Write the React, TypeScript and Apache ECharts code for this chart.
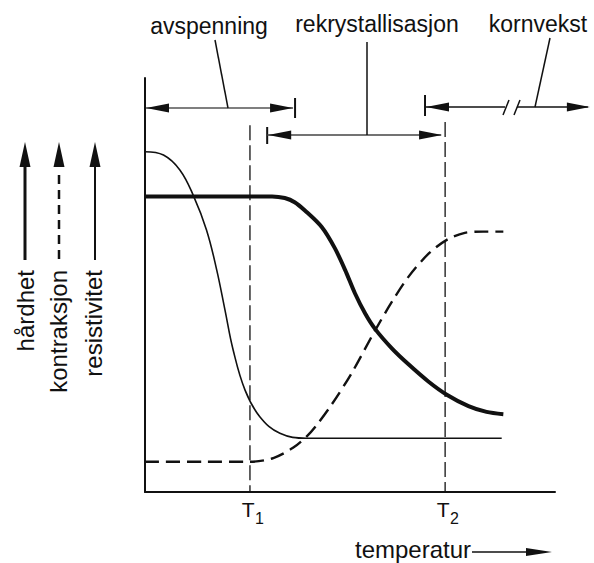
import React, { useEffect, useRef } from 'react';
import * as echarts from 'echarts';

// ---- data (schematic units: x = temperature 0..100, y = property 0..100) ----
const hardX = [0, 20, 31.0, 34.1, 36.5, 39.0, 43.1, 46.3, 48.8, 51.2, 53.7, 56.1, 60.2, 64.2, 69.1, 73.6, 78.9, 83.3, 87.4];
const hardY = [71.4, 71.4, 71.4, 71.0, 70.0, 68.0, 64.0, 58.9, 53.65, 48.0, 43.1, 39.4, 34.7, 30.9, 26.7, 23.5, 20.75, 19.35, 18.8];

const resX = [0, 4.5, 8.5, 11.8, 15.0, 17.5, 19.5, 21.5, 24.4, 28.0, 32.9, 39.4, 55, 87.0];
const resY = [82.2, 81.4, 77.8, 71.6, 63.3, 53.6, 44.0, 34.3, 24.6, 18.2, 14.2, 13.0, 13.0, 13.0];

const conX = [0, 15, 25.6, 31.3, 36.0, 39.4, 41.5, 45.5, 50.4, 56.1, 60.2, 64.2, 69.1, 73.6, 78.0, 82.5, 87.4];
const conY = [7.3, 7.3, 7.3, 8.2, 10.6, 13.4, 15.7, 21.1, 28.7, 39.0, 45.9, 51.9, 57.5, 60.9, 62.6, 62.9, 62.9];

const tValues = [25.6, 73.2];
const tSubs = ['1', '2'];
const tTops = [88.6, 89.4];

const phaseNames = ['avspenning', 'rekrystallisasjon', 'kornvekst'];
const phaseFrom = [0, 29.8, 68.3];
const phaseTo = [36.6, 72.7, 108.5];

const propNames = ['hårdhet', 'kontraksjon', 'resistivitet'];
const xName = 'temperatur';

const zip = (xs: number[], ys: number[]) => xs.map((x, i) => [x, ys[i]]);

const INK = '#111';
const FONT = "'Liberation Sans', Arial, sans-serif";

export default function App() {
  const ref = useRef<HTMLDivElement>(null);
  useEffect(() => {
    if (!ref.current) return;
    const chart = echarts.init(ref.current, null, { renderer: 'svg' });
    chart.setOption({
      animation: false,
      backgroundColor: '#fff',
      grid: { left: 145, right: 39, top: 78, bottom: 71 },
      xAxis: {
        type: 'value', min: 0, max: 100,
        axisLine: { show: true, onZero: false, lineStyle: { color: INK, width: 2 } },
        axisTick: { show: false },
        splitLine: { show: false },
        axisLabel: { show: false },
      },
      yAxis: {
        type: 'value', min: 0, max: 100,
        axisLine: { show: true, onZero: false, lineStyle: { color: INK, width: 2 } },
        axisTick: { show: false },
        splitLine: { show: false },
        axisLabel: { show: false },
      },
      series: [
        { type: 'line', data: zip(hardX, hardY), smooth: 0.3, showSymbol: false, lineStyle: { color: INK, width: 4 } },
        { type: 'line', data: zip(resX, resY), smooth: 0.4, showSymbol: false, lineStyle: { color: INK, width: 1.6 } },
        { type: 'line', data: zip(conX, conY), smooth: 0.3, showSymbol: false, lineStyle: { color: INK, width: 2.4, type: [14, 7] } },
        ...tValues.map((t, i) => ({
          type: 'line', data: [[t, tTops[i]], [t, 0]], showSymbol: false,
          lineStyle: { color: INK, width: 1.3, type: [15, 5] },
        })),
      ],
    });

    const px = (x: number) => (chart.convertToPixel({ gridIndex: 0 }, [x, 0]) as number[])[0];

    const g: any[] = [];
    const line = (x1: number, y1: number, x2: number, y2: number, w: number, color = INK, dash?: number[]) => {
      g.push({ type: 'line', silent: true, shape: { x1, y1, x2, y2 }, style: { stroke: color, lineWidth: w, lineDash: dash } });
    };
    const head = (tx: number, ty: number, dir: 'left' | 'right' | 'up', len = 23, hw = 4.5) => {
      let pts: number[][];
      if (dir === 'left') pts = [[tx, ty], [tx + len, ty - hw], [tx + len, ty + hw]];
      else if (dir === 'right') pts = [[tx, ty], [tx - len, ty - hw], [tx - len, ty + hw]];
      else pts = [[tx, ty], [tx - hw, ty + len], [tx + hw, ty + len]];
      g.push({ type: 'polygon', silent: true, shape: { points: pts }, style: { fill: INK } });
    };
    const text = (x: number, y: number, s: string, size: number, align = 'center', rotation = 0) => {
      g.push({
        type: 'text', silent: true, x, y, rotation,
        style: { text: s, fontSize: size, fontFamily: FONT, fill: INK, align, verticalAlign: 'middle' },
      });
    };

    // phase 1: avspenning
    {
      const a = px(phaseFrom[0]), b = px(phaseTo[0]), y = 108;
      line(a, y, b - 2, y, 1.5, '#555');
      head(a + 1, y, 'left');
      head(b - 2, y, 'right');
      line(b, 98, b, 118, 2);
      line(228, y, 215, 40, 1.5);
      text(209, 26, phaseNames[0], 23);
    }
    // phase 2: rekrystallisasjon
    {
      const a = px(phaseFrom[1]), b = px(phaseTo[1]), y = 135;
      line(a, 127, a, 144, 2);
      line(a, y, b - 2, y, 1.5, '#444');
      head(a + 1, y, 'left');
      head(b - 1, y, 'right');
      line(367, 42, 367, y, 1.5);
      text(377, 24, phaseNames[1], 23);
    }
    // phase 3: kornvekst
    {
      const a = px(phaseFrom[2]), b = px(phaseTo[2]), y = 107;
      line(a, 95, a, 116, 2);
      head(a + 1, y, 'left');
      line(a, y, 505, y, 1.5);
      line(503, 115, 509, 100, 1.5);
      line(514, 115, 520, 100, 1.5);
      line(517, y, b - 2, y, 1.5);
      head(b, y, 'right');
      line(535, y, 550, 38, 1.5);
      text(538, 24, phaseNames[2], 23);
    }

    // T labels
    tValues.forEach((t, i) => {
      const x = px(t);
      text(x + 4.5, 509.5, 'T', 21, 'right');
      text(x + 5, 518, tSubs[i], 16, 'left');
    });

    // left property arrows
    const ax = [25, 59, 95];
    const widths = [3, 2.5, 2];
    ax.forEach((x, i) => {
      head(x, 142, 'up', 25, 5.5);
      if (i === 1) line(x, 175, x, 260, widths[i], INK, [9, 6]);
      else line(x, 165, x, 260, widths[i]);
    });
    const tx = [25, 58, 93];
    propNames.forEach((s, i) => text(tx[i], 270, s, 24, 'right', Math.PI / 2));

    // temperature arrow
    text(355, 549, xName, 24, 'left');
    line(472, 552, 530, 552, 1.5);
    head(552, 552, 'right', 26, 4);

    chart.setOption({ graphic: g });
    return () => chart.dispose();
  }, []);
  return <div ref={ref} style={{ position: 'fixed', left: 0, top: 0, width: 594, height: 563, background: '#fff' }} />;
}
